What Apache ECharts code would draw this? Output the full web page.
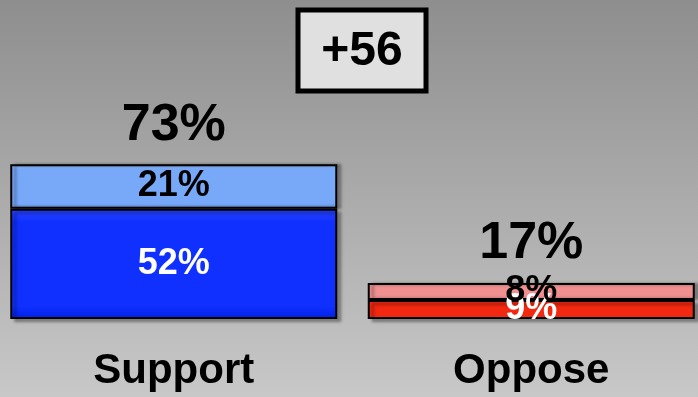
<!DOCTYPE html>
<html>
<head>
<meta charset="utf-8">
<script src="https://cdn.jsdelivr.net/npm/echarts@6/dist/echarts.min.js"></script>
<style>
html,body{margin:0;padding:0;}
#c{width:698px;height:397px;}
</style>
</head>
<body>
<div id="c"></div>
<script>
const categories = ['Support', 'Oppose'];
const strongValues = [52, 9];
const somewhatValues = [21, 8];
const totals = [73, 17];
const netLabel = '+56';

const font = '"Liberation Sans", Arial, Helvetica, sans-serif';

const chart = echarts.init(document.getElementById('c'));

function grad(top, mid, bottom) {
  return new echarts.graphic.LinearGradient(0, 0, 0, 1, [
    {offset: 0, color: top},
    {offset: 0.12, color: mid},
    {offset: 0.88, color: mid},
    {offset: 1, color: bottom}
  ]);
}

const strongColors = [grad('#2a44ff', '#1030ff', '#0020e8'), grad('#ff3a20', '#f22810', '#e01a00')];
const someColors = [grad('#90c0ff', '#78a8f8', '#6898e8'), grad('#ffb0b0', '#f09090', '#e88080')];

chart.setOption({
  backgroundColor: new echarts.graphic.LinearGradient(0, 0, 0, 1, [
    {offset: 0, color: '#8e8e8e'},
    {offset: 1, color: '#c8c8c8'}
  ]),
  animation: false,
  grid: {left: -5, width: 715, top: 107, bottom: 78, containLabel: false, outerBoundsMode: 'none'},
  xAxis: {
    type: 'category',
    data: categories,
    axisLine: {show: false},
    axisTick: {show: false},
    axisLabel: {
      margin: 31,
      color: '#000',
      fontFamily: font,
      fontWeight: 'bold',
      fontSize: 42
    }
  },
  yAxis: {
    type: 'value',
    min: 0,
    max: 100,
    show: false,
    splitLine: {show: false}
  },
  series: [
    {
      type: 'bar',
      stack: 'a',
      barWidth: 327,
      data: strongValues.map((v, i) => ({value: v, itemStyle: {color: strongColors[i]}})),
      itemStyle: {borderColor: '#000', borderWidth: 2, shadowColor: 'rgba(0,0,0,0.35)', shadowOffsetX: 4, shadowOffsetY: 3, shadowBlur: 3},
      label: {
        show: true,
        position: 'inside',
        formatter: p => p.value + '%',
        color: '#fff',
        fontFamily: font,
        fontWeight: 'bold',
        fontSize: 36
      }
    },
    {
      type: 'bar',
      stack: 'a',
      barWidth: 327,
      data: somewhatValues.map((v, i) => ({value: v, itemStyle: {color: someColors[i]}})),
      itemStyle: {borderColor: '#000', borderWidth: 2, shadowColor: 'rgba(0,0,0,0.35)', shadowOffsetX: 4, shadowOffsetY: 0, shadowBlur: 3},
      label: {
        show: true,
        position: 'inside',
        formatter: p => p.value + '%',
        color: '#000',
        fontFamily: font,
        fontWeight: 'bold',
        fontSize: 36
      }
    },
    {
      type: 'bar',
      barGap: '-100%',
      barWidth: 327,
      data: totals,
      itemStyle: {color: 'rgba(0,0,0,0)'},
      silent: true,
      z: 5,
      label: {
        show: true,
        position: 'top',
        distance: 13,
        formatter: p => p.value + '%',
        color: '#000',
        fontFamily: font,
        fontWeight: 'bold',
        fontSize: 52
      }
    }
  ],
  graphic: [
    {
      type: 'rect',
      shape: {x: 298, y: 10, width: 128, height: 81},
      style: {fill: '#e0e0e0', stroke: '#000', lineWidth: 5}
    },
    {
      type: 'text',
      x: 362,
      y: 52,
      style: {
        text: netLabel,
        fill: '#000',
        font: 'bold 48px ' + font,
        align: 'center',
        verticalAlign: 'middle'
      }
    }
  ]
});
</script>
</body>
</html>
